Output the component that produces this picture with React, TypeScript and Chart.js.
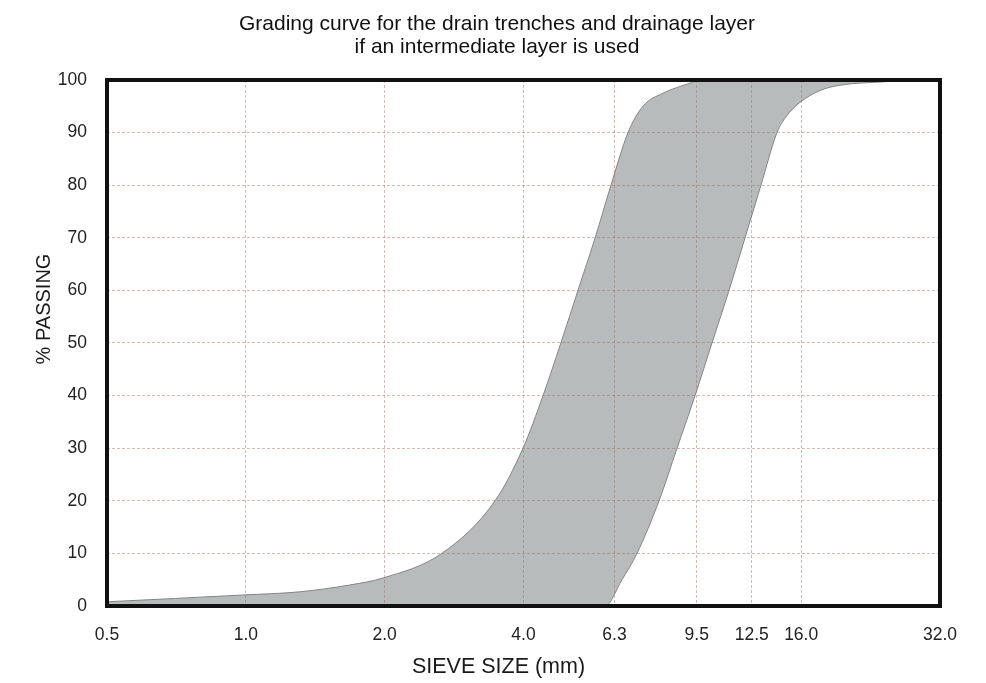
import React, { useEffect, useRef } from "react";
import { Chart, registerables } from "chart.js";

Chart.register(...registerables);

const titleLines = [
  "Grading curve for the drain trenches and drainage layer",
  "if an intermediate layer is used",
];
const xTitle = "SIEVE SIZE (mm)";
const yTitle = "% PASSING";

// Sieve sizes used as x-axis tick labels (mm)
const xTicks = [0.5, 1.0, 2.0, 4.0, 6.3, 9.5, 12.5, 16.0, 32.0];

// Finer boundary of the envelope (left curve)
const finerSize = [0.5, 0.99, 1.31, 1.68, 1.98, 2.66, 3.47, 3.99, 4.41, 4.82, 5.25, 5.72, 6.19, 6.74, 7.26, 8.03, 9.19, 9.66, 24.56];
const finerPassing = [0.8, 2.1, 2.7, 4.0, 5.3, 10, 20, 30, 40, 50, 60, 70, 80, 90, 95, 97.5, 99.4, 100, 100];

// Coarser boundary of the envelope (right curve)
const coarserSize = [0.5, 6.01, 6.54, 7.05, 7.87, 8.61, 9.42, 10.25, 11.16, 12.09, 13.09, 14.18, 14.83, 15.83, 17.58, 19.42, 24.56];
const coarserPassing = [0, 0, 5, 10, 20, 30, 40, 50, 60, 70, 80, 90, 93, 95.6, 98, 99, 99.7];

const FONT = "'Liberation Sans', Arial, Helvetica, sans-serif";

const framePlugin = {
  id: "frame",
  afterDraw(chart: any) {
    const { ctx, chartArea } = chart;
    const { left, top, right, bottom } = chartArea;
    ctx.save();
    ctx.strokeStyle = "#111";
    ctx.lineWidth = 4;
    ctx.strokeRect(left, top, right - left, bottom - top);
    ctx.restore();
  },
};

const axisTitlePlugin = {
  id: "axisTitles",
  afterDraw(chart: any) {
    const { ctx, chartArea } = chart;
    const { left, top, right, bottom } = chartArea;
    ctx.save();
    ctx.fillStyle = "#1a1a1a";
    ctx.textAlign = "center";
    ctx.textBaseline = "alphabetic";
    ctx.font = `21.5px ${FONT}`;
    ctx.fillText(xTitle, (left + right) / 2 - 25, bottom + 67);
    ctx.translate(left - 57, (top + bottom) / 2 - 34);
    ctx.rotate(-Math.PI / 2);
    ctx.font = `20px ${FONT}`;
    ctx.fillText(yTitle, 0, 0);
    ctx.restore();
  },
};

export default function App() {
  const canvasRef = useRef<HTMLCanvasElement | null>(null);

  useEffect(() => {
    document.body.style.margin = "0";
    const canvas = canvasRef.current;
    if (!canvas) return;
    Chart.defaults.font.family = FONT;

    const gridColor = "rgba(150,105,95,0.45)";

    const chart = new Chart(canvas, {
      type: "line",
      data: {
        datasets: [
          {
            label: "Finer limit",
            data: finerSize.map((x, i) => ({ x, y: finerPassing[i] })),
            borderColor: "#858585",
            borderWidth: 1,
            pointRadius: 0,
            fill: false,
            cubicInterpolationMode: "monotone",
          },
          {
            label: "Coarser limit",
            data: coarserSize.map((x, i) => ({ x, y: coarserPassing[i] })),
            borderColor: "#858585",
            borderWidth: 1,
            pointRadius: 0,
            backgroundColor: "#b8bbbc",
            fill: "-1",
            cubicInterpolationMode: "monotone",
          },
        ],
      },
      options: {
        animation: false,
        responsive: true,
        maintainAspectRatio: false,
        layout: { padding: { left: 54, right: 46, top: 0, bottom: 0 } },
        plugins: {
          legend: { display: false },
          tooltip: { enabled: false },
          title: {
            display: true,
            text: titleLines,
            color: "#111",
            font: { size: 21, weight: "normal", lineHeight: 1.076 },
            padding: { top: 13.1, bottom: 21.7 },
          },
        },
        scales: {
          x: {
            type: "logarithmic",
            min: 0.5,
            max: 32,
            afterBuildTicks: (scale: any) => {
              scale.ticks = xTicks.map((v) => ({ value: v }));
            },
            afterFit: (scale: any) => {
              scale.height = 77;
            },
            ticks: {
              autoSkip: false,
              maxRotation: 0,
              padding: 19,
              color: "#222",
              font: { size: 17.5 },
              callback: (v: any) => Number(v).toFixed(1),
            },
            grid: {
              color: gridColor,
              lineWidth: 1,
              drawTicks: false,
              z: 1,
            },
            border: { display: false, dash: [3, 2] },
            title: { display: false },
          },
          y: {
            type: "linear",
            min: 0,
            max: 100,
            afterFit: (scale: any) => {
              scale.width = 53;
            },
            ticks: {
              stepSize: 10,
              padding: 20,
              color: "#222",
              font: { size: 17.5 },
            },
            grid: {
              color: gridColor,
              lineWidth: 1,
              drawTicks: false,
              z: 1,
            },
            border: { display: false, dash: [3, 2] },
            title: { display: false },
          },
        },
      },
      plugins: [framePlugin, axisTitlePlugin],
    } as any);

    return () => chart.destroy();
  }, []);

  return (
    <div style={{ width: "986px", height: "683px", position: "relative" }}>
      <canvas ref={canvasRef} />
    </div>
  );
}
